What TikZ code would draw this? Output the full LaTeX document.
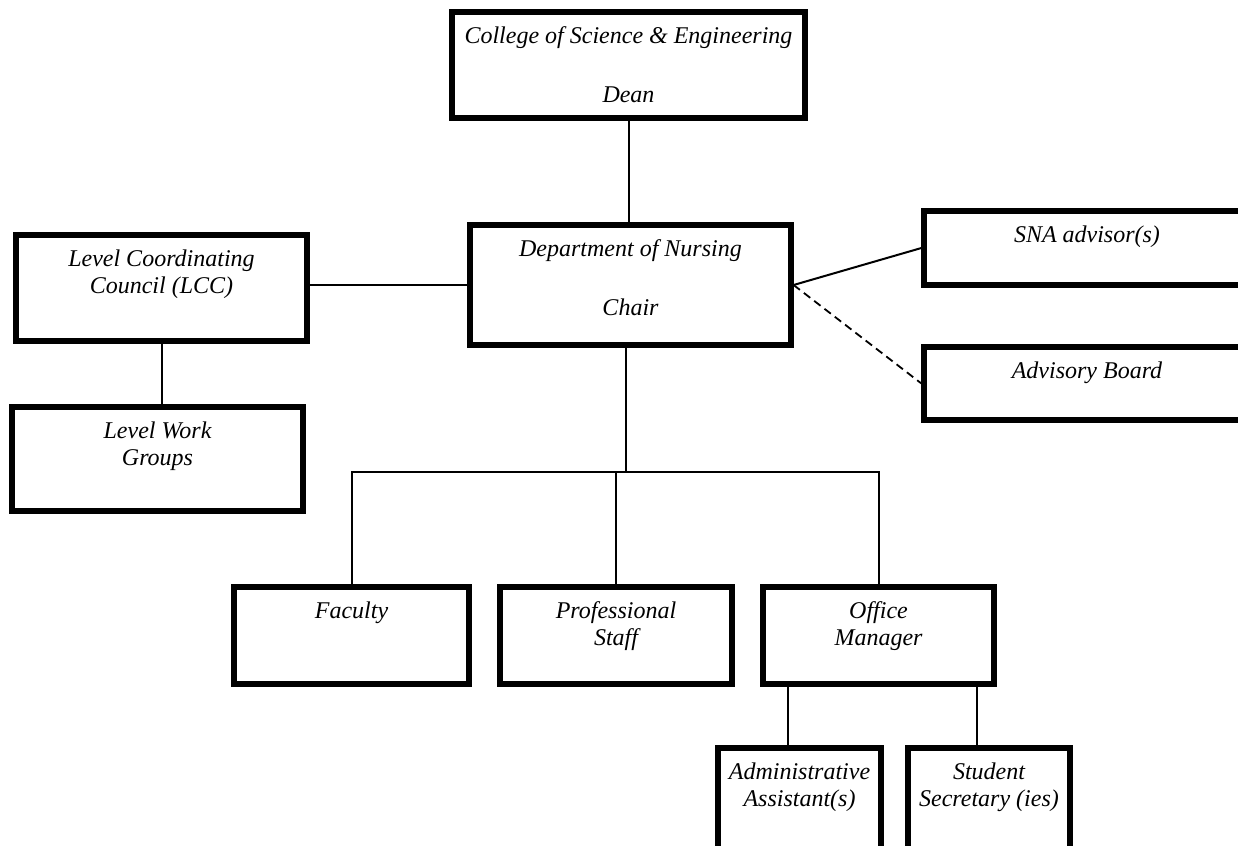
\documentclass[tikz,border=0pt]{standalone}
\usepackage{fontspec}
\setmainfont{Liberation Serif}
\usepackage{tikz}
\newcommand{\boxtxt}[3]{\parbox[c][#2][t]{#1}{\centering\vspace*{6pt}\strut #3}}

\begin{document}
\begin{tikzpicture}[
x=0.5pt,y=-0.5pt,
orgbox/.style={
  draw,
  line width=2.6pt,
  inner sep=0pt,
  font=\itshape\fontsize{12}{13.8}\selectfont
},
link/.style={
  line width=1pt
},
dashlink/.style={
  line width=0.9pt,
  dash pattern=on 4pt off 2.5pt
}
]
\useasboundingbox (0,0) rectangle (1238,846);

\node[orgbox] (dean) at (628.5,65)
  {\boxtxt{176.5pt}{53pt}{College of Science \& Engineering\\[16pt]Dean}};
\node[orgbox] (nursing) at (630.5,285)
  {\boxtxt{160.5pt}{60pt}{Department of Nursing\\[16pt]Chair}};
\node[orgbox] (lcc) at (161.5,288)
  {\boxtxt{145.5pt}{53pt}{Level Coordinating\\Council (LCC)}};
\node[orgbox] (lwg) at (157.5,459)
  {\boxtxt{145.5pt}{52pt}{Level Work\\Groups}};
\node[orgbox] (sna) at (1087,248)
  {\boxtxt{163pt}{37pt}{SNA advisor(s)}};
\node[orgbox] (adv) at (1087,383.5)
  {\boxtxt{163pt}{36.5pt}{Advisory Board}};
\node[orgbox] (faculty) at (351.5,635.5)
  {\boxtxt{117.5pt}{48.5pt}{Faculty}};
\node[orgbox] (prof) at (616,635.5)
  {\boxtxt{116pt}{48.5pt}{Professional\\Staff}};
\node[orgbox] (office) at (878.5,635.5)
  {\boxtxt{115.5pt}{48.5pt}{Office\\Manager}};
\node[orgbox] (admin) at (799.5,809)
  {\boxtxt{81.5pt}{61pt}{Administrative\\Assistant(s)}};
\node[orgbox] (student) at (989,809)
  {\boxtxt{81pt}{61pt}{Student\\Secretary (ies)}};

\coordinate (bar) at (626,472);

\draw[link] (dean) -- (dean |- nursing.north);
\draw[link] (nursing) -- (nursing -| lcc.east);
\draw[link] (lcc) -- (lcc |- lwg.north);
\draw[link] (nursing.south -| bar) -- (bar);
\draw[link] (faculty.north) |- (bar) -| (office.north);
\draw[link] (prof) -- (prof |- bar);
\draw[link] ([xshift=-6pt]admin.north) -- ([xshift=-6pt]admin.north |- office.south);
\draw[link] ([xshift=-6pt]student.north) -- ([xshift=-6pt]student.north |- office.south);
\draw[link] (nursing.east) -- (sna.west);
\draw[dashlink] (nursing.east) -- (adv.west);

\end{tikzpicture}
\end{document}
